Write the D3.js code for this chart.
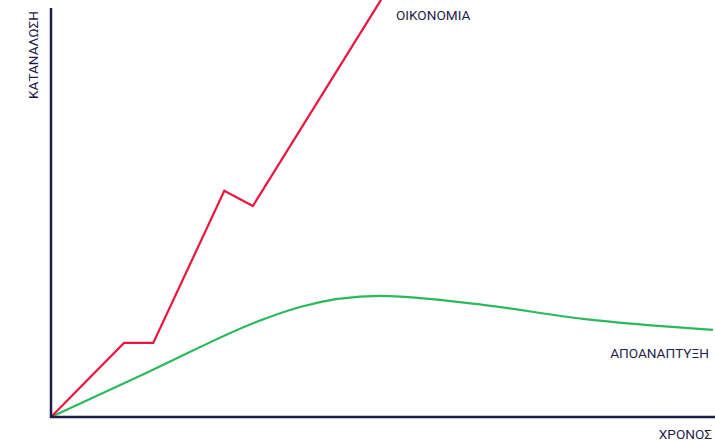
<!DOCTYPE html>
<html lang="el">
<head>
<meta charset="UTF-8">
<title>Κατανάλωση / Χρόνος</title>
<script src="https://cdnjs.cloudflare.com/ajax/libs/d3/7.8.5/d3.min.js"></script>
<style>
  body { margin: 0; background: #fff; font-family: Roboto, Arial, sans-serif; }
  .lbl { font-size: 13.6px; fill: #1f1d4a; }
</style>
</head>
<body>
<div id="chart"></div>
<script>
// values (x: time 0-100, y: consumption 0-100)
const economyX = [0, 11, 15.4, 26.1, 30.4, 49.7];
const economyY = [0, 18.1, 18.1, 55.3, 51.6, 102];
const degrowthX = [0, 14.9, 31.5, 37.5, 49.5, 65.1, 80.1, 99.7];
const degrowthY = [0, 11.2, 23.6, 26.9, 29.6, 27.4, 24.0, 21.3];
const labels = { y: "ΚΑΤΑΝΑΛΩΣΗ", x: "ΧΡΟΝΟΣ", economy: "ΟΙΚΟΝΟΜΙΑ", degrowth: "ΑΠΟΑΝΑΠΤΥΞΗ" };

const width = 715, height = 441;
const axisColor = "#1f1d4a";

const svg = d3.select("#chart").append("svg")
    .attr("width", width)
    .attr("height", height);

svg.append("defs").append("clipPath").attr("id", "clip")
  .append("rect").attr("x", 0).attr("y", 0).attr("width", width).attr("height", height);

const x = d3.scaleLinear().domain([0, 100]).range([51, 715]);
const y = d3.scaleLinear().domain([0, 100]).range([417, 8]);

const line = d3.line().x(d => x(d[0])).y(d => y(d[1]));
const smooth = d3.line().x(d => x(d[0])).y(d => y(d[1])).curve(d3.curveMonotoneX);

// lines
svg.append("path")
    .datum(degrowthX.map((v, i) => [v, degrowthY[i]]))
    .attr("d", smooth)
    .attr("fill", "none")
    .attr("stroke", "#2cb95d")
    .attr("stroke-width", 2.2);

svg.append("path")
    .datum(economyX.map((v, i) => [v, economyY[i]]))
    .attr("clip-path", "url(#clip)")
    .attr("d", line)
    .attr("fill", "none")
    .attr("stroke", "#e8173f")
    .attr("stroke-width", 2.2);

// axes (plain lines, no ticks)
svg.append("line")
    .attr("x1", x(0)).attr("x2", x(0))
    .attr("y1", y(0) + 1).attr("y2", y(100))
    .attr("stroke", axisColor).attr("stroke-width", 2.5);
svg.append("line")
    .attr("x1", x(0) - 1).attr("x2", x(100))
    .attr("y1", y(0)).attr("y2", y(0))
    .attr("stroke", axisColor).attr("stroke-width", 2.5);

// labels
svg.append("text").attr("class", "lbl")
    .attr("transform", "translate(38,55) rotate(-90)")
    .attr("text-anchor", "middle")
    .text(labels.y);
svg.append("text").attr("class", "lbl")
    .attr("x", 712).attr("y", 439)
    .attr("text-anchor", "end")
    .text(labels.x);
svg.append("text").attr("class", "lbl")
    .attr("x", 396).attr("y", 20)
    .text(labels.economy);
svg.append("text").attr("class", "lbl")
    .attr("x", 709).attr("y", 358)
    .attr("text-anchor", "end")
    .text(labels.degrowth);
</script>
</body>
</html>
